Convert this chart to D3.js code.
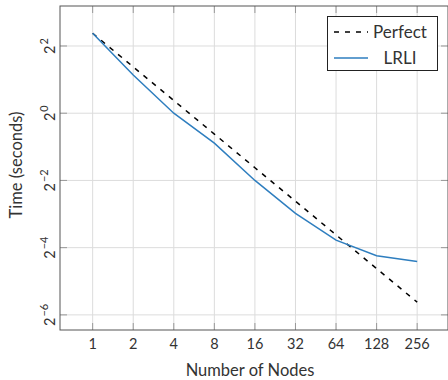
<!DOCTYPE html>
<html>
<head>
  <meta charset="UTF-8">
  <script src="https://cdn.jsdelivr.net/npm/d3@7"></script>
  <style>
    body { margin: 0; background: #fff; }
    text { font-family: "Lato", "DejaVu Sans", sans-serif; fill: #333; }
  </style>
</head>
<body>
<script>
  // chart data
  var nodes = [1, 2, 4, 8, 16, 32, 64, 128, 256];
  var perfect = [5.2, 2.6, 1.3, 0.65, 0.325, 0.163, 0.0813, 0.0406, 0.0203];
  var lrli = [5.2, 2.2, 1.0, 0.54, 0.25, 0.127, 0.073, 0.053, 0.047];
  var yTickExp = [2, 0, -2, -4, -6];

  var width = 448, height = 380;
  var pLeft = 60, pRight = 448, pTop = 6, pBottom = 330;

  var svg = d3.select("body").append("svg")
    .attr("width", width)
    .attr("height", height);

  var x = d3.scaleLog().base(2)
    .domain([Math.pow(2, -0.805), Math.pow(2, 8.76)])
    .range([pLeft, pRight]);
  var y = d3.scaleLog().base(2)
    .domain([Math.pow(2, -6.45), Math.pow(2, 3.19)])
    .range([pBottom, pTop]);

  var yTicks = yTickExp.map(function (e) { return Math.pow(2, e); });

  // grid
  svg.append("g").selectAll("line").data(nodes).enter().append("line")
    .attr("x1", function (d) { return x(d); }).attr("x2", function (d) { return x(d); })
    .attr("y1", pTop).attr("y2", pBottom)
    .style("stroke", "#dcdcdc").style("stroke-width", 1);
  svg.append("g").selectAll("line").data(yTicks).enter().append("line")
    .attr("x1", pLeft).attr("x2", pRight)
    .attr("y1", function (d) { return y(d); }).attr("y2", function (d) { return y(d); })
    .style("stroke", "#dcdcdc").style("stroke-width", 1);

  // inward ticks
  var tl = 7;
  var tg = svg.append("g").style("stroke", "#999").style("stroke-width", 1);
  nodes.forEach(function (d) {
    tg.append("line").attr("x1", x(d)).attr("x2", x(d)).attr("y1", pBottom).attr("y2", pBottom - tl);
    tg.append("line").attr("x1", x(d)).attr("x2", x(d)).attr("y1", pTop).attr("y2", pTop + tl);
  });
  yTicks.forEach(function (d) {
    tg.append("line").attr("x1", pLeft).attr("x2", pLeft + tl).attr("y1", y(d)).attr("y2", y(d));
    tg.append("line").attr("x1", pRight).attr("x2", pRight - tl).attr("y1", y(d)).attr("y2", y(d));
  });

  // frame
  svg.append("rect")
    .attr("x", pLeft).attr("y", pTop)
    .attr("width", pRight - pLeft).attr("height", pBottom - pTop)
    .style("fill", "none").style("stroke", "#555").style("stroke-width", 1);

  // lines
  var line = d3.line()
    .x(function (d, i) { return x(nodes[i]); })
    .y(function (d) { return y(d); });

  svg.append("path").datum(perfect)
    .attr("d", line)
    .style("fill", "none").style("stroke", "#000")
    .style("stroke-width", 1.5).style("stroke-dasharray", "5,6");

  svg.append("path").datum(lrli)
    .attr("d", line)
    .style("fill", "none").style("stroke", "#2e7ebf")
    .style("stroke-width", 1.5);

  // x tick labels
  svg.append("g").selectAll("text").data(nodes).enter().append("text")
    .attr("x", function (d) { return x(d); })
    .attr("y", 349)
    .style("text-anchor", "middle")
    .style("font-size", "14.5px")
    .text(function (d) { return d; });

  // y tick labels (rotated powers of two)
  var yl = svg.append("g").selectAll("text").data(yTickExp).enter().append("text")
    .attr("transform", function (d) { return "translate(55," + y(Math.pow(2, d)) + ") rotate(-90)"; })
    .style("text-anchor", "middle")
    .style("font-size", "14.5px");
  yl.append("tspan").text("2");
  yl.append("tspan")
    .attr("dy", -7)
    .attr("dx", 1)
    .style("font-size", "11px")
    .text(function (d) { return d < 0 ? "\u2212" + (-d) : d; });

  // axis titles
  svg.append("text")
    .attr("x", 250).attr("y", 376)
    .style("text-anchor", "middle")
    .style("font-size", "16.5px")
    .text("Number of Nodes");

  svg.append("text")
    .attr("transform", "translate(22,165) rotate(-90)")
    .style("text-anchor", "middle")
    .style("font-size", "16.5px")
    .text("Time (seconds)");

  // legend
  var lg = svg.append("g");
  lg.append("rect")
    .attr("x", 327.5).attr("y", 16.5)
    .attr("width", 110).attr("height", 54)
    .style("fill", "#fff").style("stroke", "#222").style("stroke-width", 1);
  lg.append("line")
    .attr("x1", 334).attr("x2", 368).attr("y1", 32).attr("y2", 32)
    .style("stroke", "#000").style("stroke-width", 1.5).style("stroke-dasharray", "5,6");
  lg.append("line")
    .attr("x1", 334).attr("x2", 368).attr("y1", 58).attr("y2", 58)
    .style("stroke", "#2e7ebf").style("stroke-width", 1.5);
  lg.append("text")
    .attr("x", 400).attr("y", 38)
    .style("text-anchor", "middle").style("font-size", "17px")
    .text("Perfect");
  lg.append("text")
    .attr("x", 400).attr("y", 64)
    .style("text-anchor", "middle").style("font-size", "17px")
    .text("LRLI");
</script>
</body>
</html>
